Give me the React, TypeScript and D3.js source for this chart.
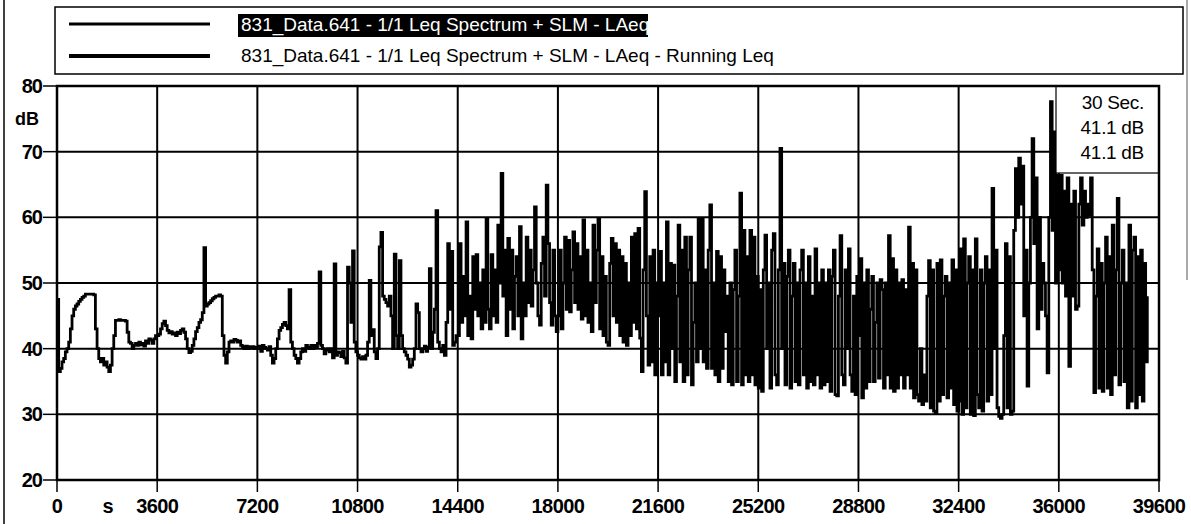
import React from 'react';
import * as d3 from 'd3';

// 30-s Leq readings sampled every 60 s, one array per hour of the survey (dB)
const hour00 = [47.5,36.5,37,38,38.5,39.5,40,41,43,45,46,46.5,46.8,47.2,47.5,47.8,48,48.3,48.3,48.3,48.3,48.3,48.2,43,40,38.5,38,38.5,37.5,38,37.2,36.5,37.5,40,42,44.3,44.3,44.4,44.3,44.3,44.3,44.2,42.5,41,40.8,40,40.5,40.8,40.5,41,40.6,40.8,40.4,41.2,40.8,41.5,41.3,40.8,41.5,42];
const hour01 = [42,42.2,43,43.8,44.2,43.5,42.8,42.4,42.6,42.2,42.4,42,42.5,42.3,42.8,43,42.5,41.5,40,39.4,39.6,40.5,41.5,42.6,43.2,44,44.4,45.5,55.4,46.5,46.8,47,47.3,47.6,47.8,48,48,48.2,48,42,39,37.8,39.5,41,41.2,41,41.4,41.3,41,41.2,40.5,40.3,40,40.4,40,40.3,40.1,40.3,40,40.2];
const hour02 = [40,40.4,39.6,40.5,40.2,40,39.8,40.3,39,37.8,38.5,40,41.5,42.8,43.2,43.7,44,43.5,43,49,41,40,39,38.5,37.8,38.5,39.5,40,39.6,40.5,40.2,40,40.5,40,40.5,40.2,40.8,51.7,40.5,40,39.2,39.8,40,39.5,40,38.6,52.9,39,39.5,39.4,38.8,39.6,38.6,37.8,52.4,50,44,54.9,41,39.5];
const hour03 = [39,38.6,38.4,38.8,38.4,39,41,50.4,42,42.9,39.5,38.5,40,55.5,57.7,48,47.5,47,46.5,48,45,40,54.4,42,40,53.4,42,40,39.5,39,38.4,37.2,37.5,38.4,40,46.8,45.5,40,39.5,40,40.4,39.6,40.2,52.2,40,42.5,46,61,41,40,39.5,40.5,39,44,56,46,54.8,40.5,41,42];
const hour04 = [42,56,44,51,45,59.3,42,48,41.5,54,46,54.3,45,50,43,52,44,59.8,46,43,54.3,45,52,44,58.8,50,66.7,48,55,42,56.8,46,55,43,51,54,45,58.6,41.5,50,45,57,47,55,46.5,52,61.6,50,45,43.6,53,57,48,64.9,56,47,43.6,55,45,42.6];
const hour05 = [45,55,43,50,57,46,56.5,45.6,52,57.8,47,56,46,54,44.5,59.6,45,55,44,50,42.6,58.8,47,55,59.8,43,54,42,51,41,40.5,53,56.8,45,56,44,55,42,54,41,53,40.5,50,42,57,44,57.5,43,58.3,41.6,36.5,52,63.9,45,37.5,54,38,55,36,50];
const hour06 = [45,54.8,36,50,38,59.3,36,53,40,52.7,35,48,58.8,38,55,35,57,36,52,57,34.5,44,50,38,59.8,40,59.8,38,52,37,55,61.9,37,50,36,54.8,35,54,37,52,42.6,48,35,50,34.5,49,55,35,48,63.7,34.5,58,36,54,35,58,36,57,34.5,51];
const hour07 = [34,49,33.5,52,57.3,40,50,34,55,57.5,36,34.5,52,70.5,40,53,34.5,51,55,34,48,53,35,50,34.5,52,55,36,50,34,54,35,48,34.5,55.2,36,50,34,52,34.5,50,35,52,33.5,51,55,33,32.8,48,57.2,36,34.5,52,40,55.2,36,33.5,48,33,51];
const hour08 = [42,53.7,32.5,50,34,52,35,46,51,35,44,50,35.5,50.5,49,34,50,36,57.2,34,53.7,33.5,52,34,50,36,50.5,34,49,36,58.5,34,53,32.5,52,33,32,40,31.5,36,32,48,53.4,31,52,30.5,30.2,53,32,53.5,33,48,51,32.5,50,34,53.5,31.5,52,30.5];
const hour09 = [32,55.2,30,56.7,31,50,54,30,52,29.8,56.7,33,31,52,30.5,50,54,32,52,33,64.4,40,55,31,29.7,29.4,30,42,56,31,54,30,30.5,58,67.4,60,69,62,67.8,45,55,34.3,50,60,72,56,66,43,60,46,53,50,45,36.3,60,77.6,58,73,50,66.4];
const hour10 = [52,66.4,50,64,48,66,37.3,62,48,64,46,46.5,62,66,58.8,64,60,62,60.3,66,52,33.3,48,55.2,34,53,33.5,50,57,34,54,33,58.8,36,52,62.9,34.5,50,55,35,50,31,58.8,32,55,57,31,54,33,55,32,53,38,48];

const laeq = [...hour00, ...hour01, ...hour02, ...hour03, ...hour04, ...hour05, ...hour06, ...hour07, ...hour08, ...hour09, ...hour10];
const sampleStepS = 60;

const xTicks = [0, 3600, 7200, 10800, 14400, 18000, 21600, 25200, 28800, 32400, 36000, 39600];
const yTicks = [20, 30, 40, 50, 60, 70, 80];
const legendLabels = [
  '831_Data.641 - 1/1 Leq Spectrum + SLM - LAeq',
  '831_Data.641 - 1/1 Leq Spectrum + SLM - LAeq - Running Leq',
];
const readout = ['30 Sec.', '41.1 dB', '41.1 dB'];

export default function App() {
  const W = 1191;
  const H = 524;
  const left = 57, right = 1159, top = 86, bottom = 480;
  const x = d3.scaleLinear().domain([0, 39600]).range([left, right]);
  const y = d3.scaleLinear().domain([20, 80]).range([bottom, top]);
  const line = d3
    .line<number>()
    .x((_, i) => x(i * sampleStepS))
    .y((d) => y(d))
    .curve(d3.curveStepAfter);
  const path = line(laeq) || '';
  const font = "'Liberation Sans', Arial, sans-serif";

  return (
    <svg
      width={W}
      height={H}
      viewBox={`0 0 ${W} ${H}`}
      style={{ position: 'fixed', left: 0, top: 0, background: '#fff', display: 'block' }}
    >
      <defs>
        <clipPath id="plotClip">
          <rect x={left} y={top} width={right - left} height={bottom - top} />
        </clipPath>
      </defs>
      <rect x={0} y={0} width={W} height={H} fill="#fff" />
      {/* outer frame */}
      <line x1={4} y1={0} x2={4} y2={H} stroke="#000" strokeWidth={1.5} />
      <line x1={1187} y1={0} x2={1187} y2={280} stroke="#555" strokeWidth={1} />

      {/* legend */}
      <rect x={55} y={7} width={1128} height={67} fill="#fff" stroke="#000" strokeWidth={1.5} />
      <line x1={69} y1={24} x2={210} y2={24} stroke="#000" strokeWidth={3} />
      <line x1={69} y1={56} x2={210} y2={56} stroke="#000" strokeWidth={4} />
      <rect x={238} y={14} width={410} height={23} fill="#000" />
      <text x={241} y={31} fontFamily={font} fontSize={19} fill="#fff">{legendLabels[0]}</text>
      <text x={241} y={62} fontFamily={font} fontSize={19} fill="#000">{legendLabels[1]}</text>

      {/* grid */}
      {yTicks.map((v) => (
        <line key={'gy' + v} x1={left} x2={right} y1={y(v)} y2={y(v)} stroke="#000" strokeWidth={2} />
      ))}
      {xTicks.map((v) => (
        <line key={'gx' + v} x1={x(v)} x2={x(v)} y1={top} y2={bottom} stroke="#000" strokeWidth={2} />
      ))}

      {/* LAeq trace */}
      <path d={path} fill="none" stroke="#000" strokeWidth={2.8} strokeLinejoin="miter" clipPath="url(#plotClip)" />

      {/* readout box */}
      <rect x={1056} y={top} width={right - 1056} height={87} fill="#fff" stroke="#000" strokeWidth={1.2} />
      {readout.map((t, i) => (
        <text key={'r' + i} x={1144} y={109 + i * 25} textAnchor="end" fontFamily={font} fontSize={19} letterSpacing={-0.3} fill="#000">
          {t}
        </text>
      ))}

      {/* plot border */}
      <rect x={left} y={top} width={right - left} height={bottom - top} fill="none" stroke="#000" strokeWidth={2.5} />

      {/* y ticks and labels */}
      {yTicks.map((v) => (
        <g key={'ty' + v}>
          <line x1={43} x2={left} y1={y(v)} y2={y(v)} stroke="#000" strokeWidth={1.5} />
          <text x={42} y={y(v) + 7} textAnchor="end" fontFamily={font} fontWeight="bold" fontSize={20} letterSpacing={-1} fill="#000">
            {v}
          </text>
        </g>
      ))}
      <text x={27} y={125} textAnchor="middle" fontFamily={font} fontWeight="bold" fontSize={18} fill="#000">dB</text>

      {/* x ticks and labels */}
      {xTicks.map((v) => (
        <g key={'tx' + v}>
          <line x1={x(v)} x2={x(v)} y1={bottom} y2={bottom + 12} stroke="#000" strokeWidth={1.5} />
          <text x={x(v)} y={513} textAnchor="middle" fontFamily={font} fontWeight="bold" fontSize={20} letterSpacing={-0.6} fill="#000">
            {v}
          </text>
        </g>
      ))}
      <text x={108} y={513} textAnchor="middle" fontFamily={font} fontWeight="bold" fontSize={20} fill="#000">s</text>
    </svg>
  );
}
